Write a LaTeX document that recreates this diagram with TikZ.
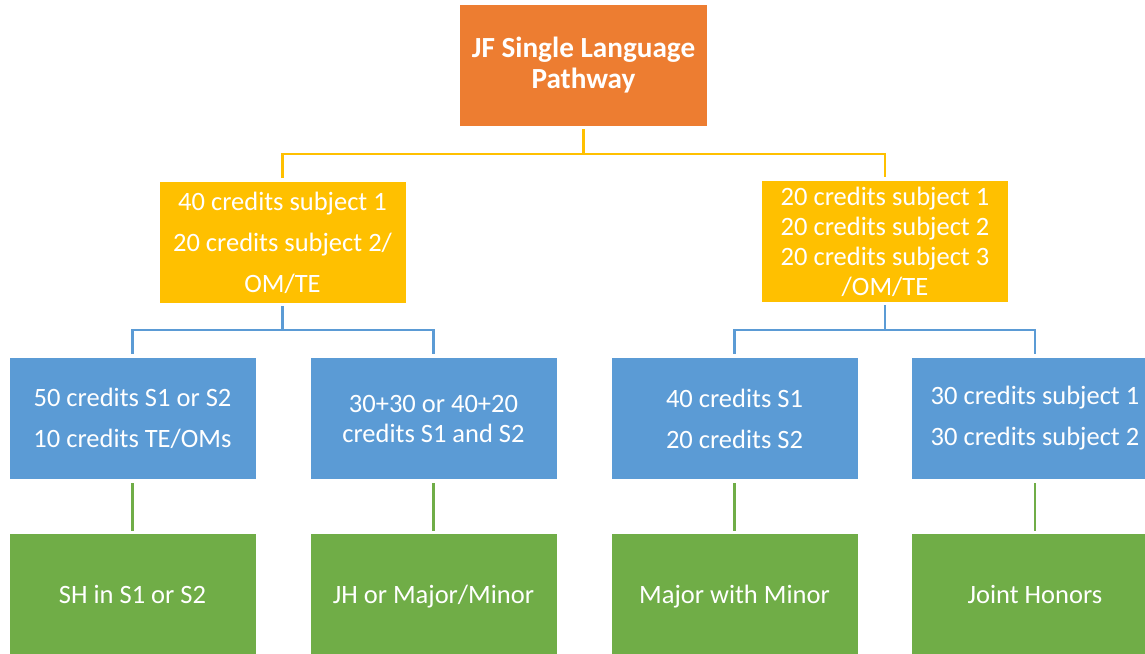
\documentclass[tikz,border=0pt]{standalone}
\usepackage{fontspec}
\setmainfont{Carlito}
\definecolor{corange}{HTML}{ED7D31}
\definecolor{cyellow}{HTML}{FFC000}
\definecolor{cblue}{HTML}{5B9BD5}
\definecolor{cgreen}{HTML}{70AD47}
\tikzset{
  box/.style={rectangle, inner sep=0pt, minimum width=246pt, minimum height=121pt, text=white, align=center,
    font=\fontsize{26.5}{30}\selectfont},
  obox/.style={box, fill=corange, minimum width=247pt, font=\fontsize{29.2}{31}\selectfont\bfseries},
  ybox/.style={box, fill=cyellow},
  bbox/.style={box, fill=cblue},
  gbox/.style={box, fill=cgreen, text height=18pt, text depth=0pt},
  conn/.style={line width=2.5pt},
  yc/.style={conn, draw=cyellow},
  bc/.style={conn, draw=cblue},
  gc/.style={conn, draw=cgreen},
}
\begin{document}
\begin{tikzpicture}[x=1pt,y=-1pt]
\useasboundingbox (0,0) rectangle (1145,653);
\clip (0,0) rectangle (1145,653);
\node[obox] (top) at (583.5,65.5) {JF Single Language\\Pathway};
\node[ybox] (yl) at (282.5,242.5) {40 credits subject 1\\[11pt]20 credits subject 2/\\[11pt]OM/TE};
\node[ybox] (yr) at (885,241.5) {20 credits subject 1\\20 credits subject 2\\20 credits subject 3\\/OM/TE};
\node[bbox] (b1) at (132.5,418.5) {50 credits S1 or S2\\[11pt]10 credits TE/OMs};
\node[bbox] (b2) at (433.5,418.5) {30+30 or 40+20\\credits S1 and S2};
\node[bbox] (b3) at (734.5,418.5) {40 credits S1\\[11pt]20 credits S2};
\node[bbox] (b4) at (1035,418.5) {\strut 30 credits subject 1\\[11pt]30 credits subject 2\strut};
\node[gbox] (g1) at (132.5,594.5) {SH in S1 or S2};
\node[gbox] (g2) at (433.5,594.5) {JH or Major/Minor};
\node[gbox] (g3) at (734.5,594.5) {Major with Minor};
\node[gbox] (g4) at (1035,594.5) {Joint Honors};
\coordinate (j1) at (583.5,154);
\coordinate (j2) at (282.5,330);
\coordinate (j3) at (885,330);
\draw[yc, shorten <=3pt] (top.south) -- (j1);
\draw[yc, shorten >=4pt] (j1) -| (yl.north);
\draw[yc, shorten >=4pt] (j1) -| (yr.north);
\draw[bc, shorten <=3pt] (yl.south) -- (j2);
\draw[bc, shorten >=4pt] (j2) -| (b1.north);
\draw[bc, shorten >=4pt] (j2) -| (b2.north);
\draw[bc, shorten <=3pt] (yr.south) -- (j3);
\draw[bc, shorten >=4pt] (j3) -| (b3.north);
\draw[bc, shorten >=4pt] (j3) -| (b4.north);
\draw[gc, shorten <=4pt, shorten >=3pt] (b1.south) -- (g1.north);
\draw[gc, shorten <=4pt, shorten >=3pt] (b2.south) -- (g2.north);
\draw[gc, shorten <=4pt, shorten >=3pt] (b3.south) -- (g3.north);
\draw[gc, shorten <=4pt, shorten >=3pt] (b4.south) -- (g4.north);
\end{tikzpicture}
\end{document}
